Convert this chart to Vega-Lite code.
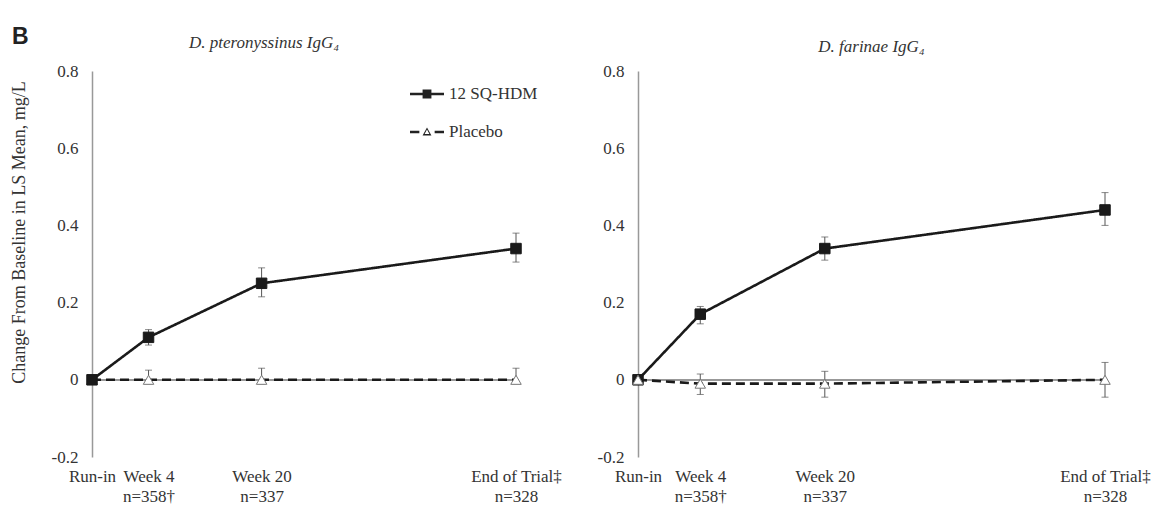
{
  "$schema": "https://vega.github.io/schema/vega-lite/v6.json",
  "background": "white",
  "padding": {"left": 10, "top": 26, "right": 5, "bottom": 5},
  "title": {"text": "B", "anchor": "start", "font": "Liberation Sans", "fontSize": 23, "fontWeight": "bold", "color": "#222", "offset": -15, "dx": 2},
  "config": {"view": {"stroke": null}, "font": "Liberation Serif"},
  "data": {"values": [
    {"panel": "Dp", "series": "Placebo", "week": -4, "mean": 0, "lo": null, "hi": null},
    {"panel": "Dp", "series": "Placebo", "week": 4, "mean": 0, "lo": -0.01, "hi": 0.025},
    {"panel": "Dp", "series": "Placebo", "week": 20, "mean": 0, "lo": -0.01, "hi": 0.03},
    {"panel": "Dp", "series": "Placebo", "week": 56, "mean": 0, "lo": -0.01, "hi": 0.03},
    {"panel": "Dp", "series": "12 SQ-HDM", "week": -4, "mean": 0, "lo": null, "hi": null},
    {"panel": "Dp", "series": "12 SQ-HDM", "week": 4, "mean": 0.11, "lo": 0.09, "hi": 0.13},
    {"panel": "Dp", "series": "12 SQ-HDM", "week": 20, "mean": 0.25, "lo": 0.215, "hi": 0.29},
    {"panel": "Dp", "series": "12 SQ-HDM", "week": 56, "mean": 0.34, "lo": 0.305, "hi": 0.38},
    {"panel": "Df", "series": "12 SQ-HDM", "week": -4, "mean": 0, "lo": null, "hi": null},
    {"panel": "Df", "series": "12 SQ-HDM", "week": 4, "mean": 0.17, "lo": 0.145, "hi": 0.19},
    {"panel": "Df", "series": "12 SQ-HDM", "week": 20, "mean": 0.34, "lo": 0.31, "hi": 0.37},
    {"panel": "Df", "series": "12 SQ-HDM", "week": 56, "mean": 0.44, "lo": 0.4, "hi": 0.485},
    {"panel": "Df", "series": "Placebo", "week": -4, "mean": 0, "lo": null, "hi": null},
    {"panel": "Df", "series": "Placebo", "week": 4, "mean": -0.01, "lo": -0.038, "hi": 0.015},
    {"panel": "Df", "series": "Placebo", "week": 20, "mean": -0.01, "lo": -0.045, "hi": 0.022},
    {"panel": "Df", "series": "Placebo", "week": 56, "mean": 0.0, "lo": -0.045, "hi": 0.045}
  ]},
  "spacing": 122,
  "bounds": "flush",
  "resolve": {"scale": {"x": "independent", "y": "independent", "shape": "independent", "fill": "independent", "stroke": "independent", "strokeDash": "independent"}, "legend": {"shape": "independent"}},
  "hconcat": [
    {
      "width": 424,
      "height": 386,
      "title": {"text": "D. pteronyssinus IgG₄", "font": "Liberation Serif", "fontStyle": "italic", "fontSize": 17, "fontWeight": "normal", "color": "#333", "offset": 10, "dx": -40},
      "transform": [{"filter": "datum.panel === 'Dp'"}],
      "resolve": {"scale": {"shape": "independent"}, "legend": {"shape": "independent"}},
      "layer": [
        {"mark": {"type": "rule", "color": "#999", "strokeWidth": 1.2}, "encoding": {"y": {"datum": 0, "type": "quantitative"}}},
        {
          "mark": {"type": "line", "color": "#1a1a1a", "strokeWidth": 2.6},
          "encoding": {
            "x": {"field": "week", "type": "quantitative", "scale": {"domain": [-4, 56], "nice": false, "zero": false},
              "axis": {"title": null, "values": [-4, 4, 20, 56], "labelExpr": "datum.value == -4 ? 'Run-in' : datum.value == 4 ? ['Week 4', 'n=358†'] : datum.value == 20 ? ['Week 20', 'n=337'] : ['End of Trial‡', 'n=328']", "domain": false, "ticks": false, "grid": false, "labelFlush": false, "labelOverlap": false, "labelPadding": 11, "labelFont": "Liberation Serif", "labelFontSize": 17, "labelLineHeight": 20, "labelColor": "#333", "labelBaseline": "top"}},
            "y": {"field": "mean", "type": "quantitative", "title": "Change From Baseline in LS Mean, mg/L", "scale": {"domain": [-0.2, 0.8], "nice": false, "zero": false},
              "axis": {"values": [-0.2, 0, 0.2, 0.4, 0.6, 0.8], "labelExpr": "'' + datum.value", "titleFont": "Liberation Serif", "titleFontSize": 18, "titleFontWeight": "normal", "titleColor": "#333", "titleX": -73, "titleY": 161, "titleAngle": -90, "titleAlign": "center", "titleBaseline": "middle", "domain": true, "domainColor": "#999", "domainWidth": 1.5, "ticks": false, "grid": false, "labelPadding": 14, "labelFont": "Liberation Serif", "labelFontSize": 17, "labelColor": "#333"}},
            "strokeDash": {"field": "series", "type": "nominal", "scale": {"domain": ["12 SQ-HDM", "Placebo"], "range": [[1, 0], [9, 5]]}, "legend": null}
          }
        },
        {
          "transform": [{"filter": "datum.lo != null"}],
          "mark": {"type": "errorbar", "ticks": {"size": 7}, "color": "#555", "thickness": 1},
          "encoding": {"x": {"field": "week", "type": "quantitative"}, "y": {"field": "lo", "type": "quantitative", "title": "Change From Baseline in LS Mean, mg/L"}, "y2": {"field": "hi"}}
        },
        {
          "mark": {"type": "point", "filled": true, "opacity": 1, "size": 110, "strokeWidth": 1},
          "encoding": {
            "x": {"field": "week", "type": "quantitative"},
            "y": {"field": "mean", "type": "quantitative", "title": "Change From Baseline in LS Mean, mg/L"},
            "shape": {"field": "series", "type": "nominal", "scale": {"domain": ["12 SQ-HDM", "Placebo"], "range": ["square", "triangle-up"]}, "legend": null},
            "fill": {"field": "series", "type": "nominal", "scale": {"domain": ["12 SQ-HDM", "Placebo"], "range": ["#1a1a1a", "#ffffff"]}, "legend": null},
            "stroke": {"field": "series", "type": "nominal", "scale": {"domain": ["12 SQ-HDM", "Placebo"], "range": ["#1a1a1a", "#777777"]}, "legend": null}
          }
        },
        {
          "transform": [{"filter": "datum.week > 100"}],
          "mark": {"type": "point", "filled": true, "opacity": 1, "color": "#222"},
          "encoding": {
            "shape": {"field": "series", "type": "nominal",
              "scale": {"domain": ["12 SQ-HDM", "Placebo"], "range": ["M-1,-0.08H1V0.08H-1Z M-0.26,-0.26H0.26V0.26H-0.26Z", "M-1,-0.075H-0.45V0.075H-1Z M0.45,-0.075H1V0.075H0.45Z M0,-0.27L0.26,0.2L-0.26,0.2Z M0,-0.14L-0.14,0.12L0.14,0.12Z"]},
              "legend": {"title": null, "orient": "none", "legendX": 318, "legendY": 6, "symbolSize": 1156, "symbolFillColor": "#222", "symbolStrokeWidth": 0, "symbolOpacity": 1, "labelFont": "Liberation Serif", "labelFontSize": 17, "labelColor": "#333", "labelOffset": 5, "rowPadding": 13, "padding": 0}}
          }
        }
      ]
    },
    {
      "width": 467,
      "height": 386,
      "title": {"text": "D. farinae IgG₄", "font": "Liberation Serif", "fontStyle": "italic", "fontSize": 17, "fontWeight": "normal", "color": "#333", "offset": 6},
      "transform": [{"filter": "datum.panel === 'Df'"}],
      "layer": [
        {"mark": {"type": "rule", "color": "#999", "strokeWidth": 1.2}, "encoding": {"y": {"datum": 0, "type": "quantitative"}}},
        {
          "mark": {"type": "line", "color": "#1a1a1a", "strokeWidth": 2.6},
          "encoding": {
            "x": {"field": "week", "type": "quantitative", "scale": {"domain": [-4, 56], "nice": false, "zero": false},
              "axis": {"title": null, "values": [-4, 4, 20, 56], "labelExpr": "datum.value == -4 ? 'Run-in' : datum.value == 4 ? ['Week 4', 'n=358†'] : datum.value == 20 ? ['Week 20', 'n=337'] : ['End of Trial‡', 'n=328']", "domain": false, "ticks": false, "grid": false, "labelFlush": false, "labelOverlap": false, "labelPadding": 11, "labelFont": "Liberation Serif", "labelFontSize": 17, "labelLineHeight": 20, "labelColor": "#333", "labelBaseline": "top"}},
            "y": {"field": "mean", "type": "quantitative", "scale": {"domain": [-0.2, 0.8], "nice": false, "zero": false},
              "axis": {"values": [-0.2, 0, 0.2, 0.4, 0.6, 0.8], "labelExpr": "'' + datum.value", "title": null, "domain": true, "domainColor": "#999", "domainWidth": 1.5, "ticks": false, "grid": false, "labelPadding": 14, "labelFont": "Liberation Serif", "labelFontSize": 17, "labelColor": "#333"}},
            "strokeDash": {"field": "series", "type": "nominal", "scale": {"domain": ["12 SQ-HDM", "Placebo"], "range": [[1, 0], [9, 5]]}, "legend": null}
          }
        },
        {
          "transform": [{"filter": "datum.lo != null"}],
          "mark": {"type": "errorbar", "ticks": {"size": 7}, "color": "#555", "thickness": 1},
          "encoding": {"x": {"field": "week", "type": "quantitative"}, "y": {"field": "lo", "type": "quantitative"}, "y2": {"field": "hi"}}
        },
        {
          "mark": {"type": "point", "filled": true, "opacity": 1, "size": 110, "strokeWidth": 1},
          "encoding": {
            "x": {"field": "week", "type": "quantitative"},
            "y": {"field": "mean", "type": "quantitative"},
            "shape": {"field": "series", "type": "nominal", "scale": {"domain": ["12 SQ-HDM", "Placebo"], "range": ["square", "triangle-up"]}, "legend": null},
            "fill": {"field": "series", "type": "nominal", "scale": {"domain": ["12 SQ-HDM", "Placebo"], "range": ["#1a1a1a", "#ffffff"]}, "legend": null},
            "stroke": {"field": "series", "type": "nominal", "scale": {"domain": ["12 SQ-HDM", "Placebo"], "range": ["#1a1a1a", "#777777"]}, "legend": null}
          }
        }
      ]
    }
  ]
}
